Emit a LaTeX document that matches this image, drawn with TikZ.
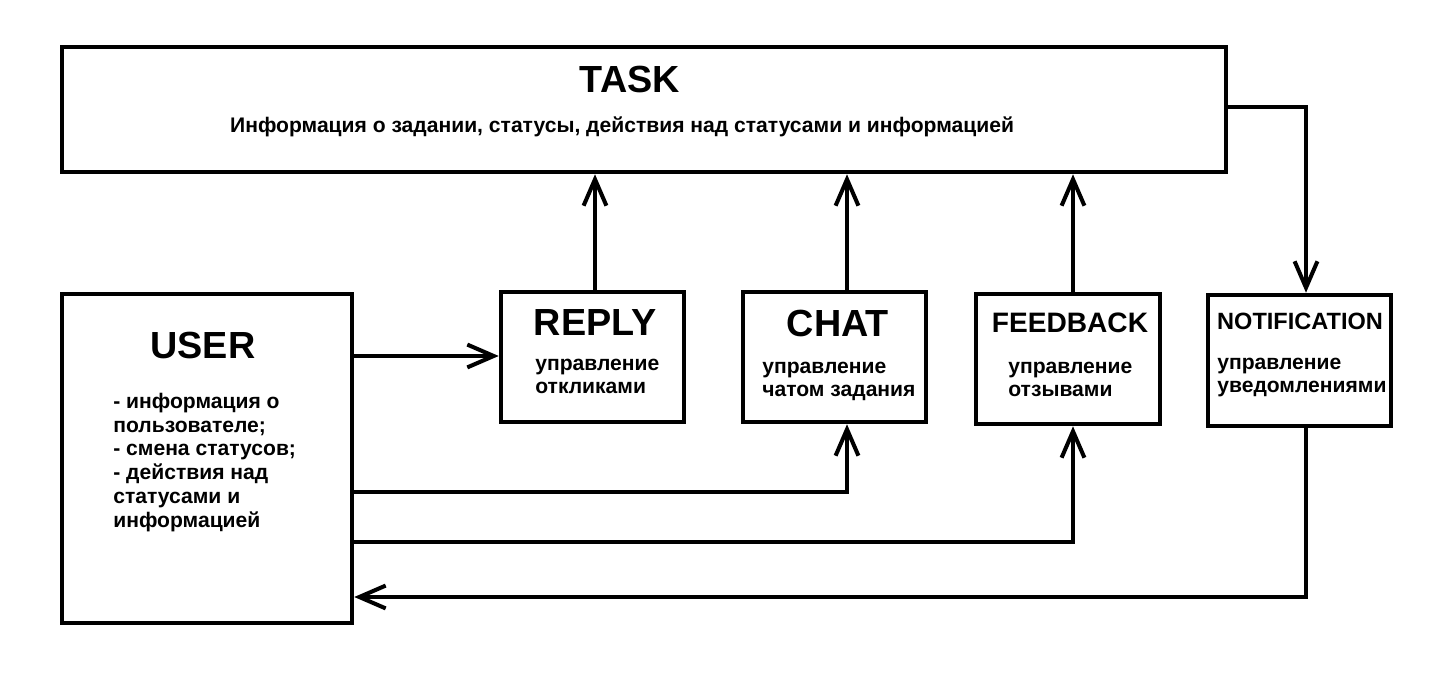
\documentclass[tikz,border=0pt]{standalone}
\usepackage{fontspec}
\setmainfont{Liberation Sans}
\usetikzlibrary{arrows.meta}
\tikzset{
  box/.style={draw, line width=2.6pt, inner sep=0pt, minimum height=2.6cm, minimum width=3.66cm},
  title/.style={font=\bfseries\fontsize{21.5}{25}\selectfont, inner sep=0pt, anchor=base},
  body/.style={font=\bfseries\fontsize{12}{13.5}\selectfont, inner sep=0pt, align=left, anchor=base west},
  arr/.style={line width=2.3pt, -{Straight Barb[length=15pt, width=13pt]}}
}
\begin{document}
\begin{tikzpicture}[x=0.02cm, y=-0.02cm]
  \useasboundingbox (0,0) rectangle (1447,692);

  \node[box, minimum width=23.28cm, minimum height=2.5cm] (task) at (644,109.5) {};
  \node[box, minimum width=5.8cm, minimum height=6.58cm] (user) at (207,458.5) {};
  \node[box] (reply) at (592.5,357) {};
  \node[box] (chat) at (834.5,357) {};
  \node[box, minimum width=3.68cm] (feedback) at (1068,359) {};
  \node[box, minimum height=2.62cm] (notification) at (1299.5,360.5) {};

  \node[title] (tasktitle) at (630,93) {TASK};
  \node[title, font=\bfseries\fontsize{12}{14}\selectfont] (tasktext) at (622,133)
    {Информация о задании, статусы, действия над статусами и информацией};
  \node[title] (usertitle) at (203,359) {USER};
  \node[body] (usertext) at (113,527) {- информация о\\пользователе;\\- смена статусов;\\- действия над\\статусами и\\информацией};
  \node[title] (replytitle) at (595,336) {REPLY};
  \node[body] (replytext) at (535,394) {управление\\откликами};
  \node[title] (chattitle) at (838,337) {CHAT};
  \node[body] (chattext) at (762,397) {управление\\чатом задания};
  \node[title, font=\bfseries\fontsize{16}{19}\selectfont] (feedbacktitle) at (1070,333) {FEEDBACK};
  \node[body] (feedbacktext) at (1008,397) {управление\\отзывами};
  \node[title, font=\bfseries\fontsize{13.4}{16}\selectfont] (notificationtitle) at (1300,330) {NOTIFICATION};
  \node[body] (notificationtext) at (1217,393) {управление\\уведомлениями};

  \coordinate (lane1) at (595,0);
  \coordinate (lane2) at (847,0);
  \coordinate (lane3) at (1073,0);
  \coordinate (lane4) at (1306,0);
  \coordinate (row0) at (0,107);
  \coordinate (row1) at (0,356);
  \coordinate (row2) at (0,492);
  \coordinate (row3) at (0,542);
  \coordinate (row4) at (0,597);

  \draw[arr] (lane1 |- reply.north) -- (lane1 |- task.south);
  \draw[arr] (lane2 |- chat.north) -- (lane2 |- task.south);
  \draw[arr] (lane3 |- feedback.north) -- (lane3 |- task.south);
  \draw[arr] (task.east |- row0) -| (lane4 |- notification.north);
  \draw[arr] (user.east |- row1) -- (reply.west |- row1);
  \draw[arr] (user.east |- row2) -| (lane2 |- chat.south);
  \draw[arr] (user.east |- row3) -| (lane3 |- feedback.south);
  \draw[arr] (lane4 |- notification.south) |- (user.east |- row4);
\end{tikzpicture}
\end{document}
